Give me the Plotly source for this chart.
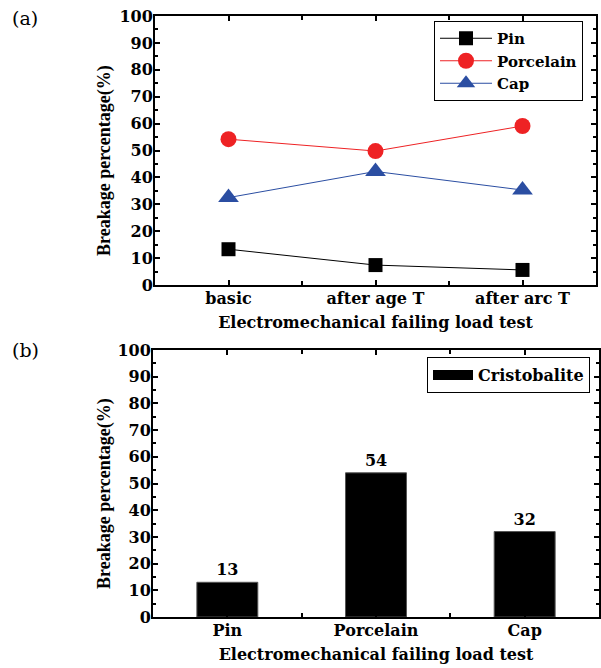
import plotly.graph_objects as go

# ---- data ----
conditions = ["basic", "after age T", "after arc T"]
pin = [13.3, 7.4, 5.6]
porcelain = [54.2, 49.8, 59.1]
cap = [32.5, 42.2, 35.3]

parts = ["Pin", "Porcelain", "Cap"]
cristobalite = [13, 54, 32]

yticks = [0, 10, 20, 30, 40, 50, 60, 70, 80, 90, 100]

W, H = 601, 668
FONT = "DejaVu Serif"
TFONT = "Liberation Serif"

def fx(px):
    return px / W

def fy(py):
    return 1 - py / H

fig = go.Figure()

xpos = list(range(len(conditions)))
fig.add_trace(go.Scatter(x=xpos, y=pin, name="Pin", mode="lines+markers",
                         line=dict(color="black", width=1),
                         marker=dict(symbol="square", size=14, color="black"),
                         xaxis="x", yaxis="y", legend="legend"))
fig.add_trace(go.Scatter(x=xpos, y=porcelain, name="Porcelain", mode="lines+markers",
                         line=dict(color="#ee2224", width=1),
                         marker=dict(symbol="circle", size=16, color="#ee2224"),
                         xaxis="x", yaxis="y", legend="legend"))
fig.add_trace(go.Scatter(x=xpos, y=cap, name="Cap", mode="lines+markers",
                         line=dict(color="#2b4ea2", width=1),
                         marker=dict(symbol="triangle-up", size=18, color="#2b4ea2"),
                         xaxis="x", yaxis="y", legend="legend"))

bpos = list(range(len(parts)))
fig.add_trace(go.Bar(x=bpos, y=cristobalite, name="Cristobalite", width=0.41,
                     marker=dict(color="black", line=dict(color="#555555", width=1)),
                     text=[str(v) for v in cristobalite], textposition="outside",
                     texttemplate="<b>%{text}</b>",
                     textfont=dict(family=FONT, size=16, color="black"),
                     cliponaxis=False, showlegend=False,
                     xaxis="x2", yaxis="y2"))
# legend entry for the bars (wide block like the original)
fig.add_trace(go.Scatter(x=[None], y=[None], name="Cristobalite", mode="lines",
                         line=dict(color="black", width=16),
                         xaxis="x2", yaxis="y2", legend="legend2"))

axis_common = dict(showline=True, linecolor="black", linewidth=2, mirror="allticks",
                   ticks="inside", ticklen=5, tickwidth=1.5, tickcolor="black",
                   showgrid=False, zeroline=False, automargin=False,
                   ticklabeloverflow="allow",
                   tickfont=dict(family=FONT, size=16, color="black", weight="bold"))

xaxis_common = dict(axis_common, range=[-0.5, 2.5], tickvals=xpos,
                    ticklabelstandoff=-2,
                    minor=dict(tickvals=[0.5, 1.5], ticks="inside", ticklen=4,
                               tickcolor="black", tickwidth=1.5))
yaxis_common = dict(axis_common, range=[0, 100], tickvals=yticks,
                    ticktext=[str(v) for v in yticks], ticklabelstandoff=-3,
                    minor=dict(dtick=5, ticks="inside", ticklen=3,
                               tickcolor="black", tickwidth=1.5))

xtitle = dict(text="Electromechanical failing load test",
              font=dict(family=FONT, size=16, weight="bold"), standoff=10)

YTITLE = "Breakage percentage(%)"
ytitle_font = dict(family=TFONT, size=18, color="black", weight="bold")

fig.update_layout(
    width=W, height=H,
    margin=dict(l=0, r=0, t=0, b=0, autoexpand=False),
    paper_bgcolor="white", plot_bgcolor="white",
    font=dict(family=FONT, color="black"),
    xaxis=dict(xaxis_common, domain=[fx(155), fx(596)], anchor="y",
               ticktext=conditions, title=xtitle),
    yaxis=dict(yaxis_common, domain=[fy(285), fy(16)], anchor="x"),
    xaxis2=dict(xaxis_common, domain=[fx(153), fx(599)], anchor="y2",
                ticktext=parts, title=xtitle),
    yaxis2=dict(yaxis_common, domain=[fy(617), fy(350)], anchor="x2"),
    legend=dict(x=fx(434), y=fy(21), xanchor="left", yanchor="top",
                bordercolor="black", borderwidth=1, bgcolor="white",
                font=dict(family=FONT, size=15, color="black", weight="bold"),
                itemwidth=52, tracegroupgap=0),
    legend2=dict(x=fx(427), y=fy(357), xanchor="left", yanchor="top",
                 bordercolor="black", borderwidth=1, bgcolor="white",
                 font=dict(family=FONT, size=16, color="black", weight="bold"),
                 itemwidth=40),
    annotations=[
        dict(text="(a)", x=fx(10), y=fy(5), xref="paper", yref="paper",
             xanchor="left", yanchor="top", showarrow=False,
             font=dict(family=FONT, size=19, color="black")),
        dict(text="(b)", x=fx(10), y=fy(337), xref="paper", yref="paper",
             xanchor="left", yanchor="top", showarrow=False,
             font=dict(family=FONT, size=19, color="black")),
        dict(text=YTITLE, x=fx(104), y=fy(161), xref="paper", yref="paper",
             xanchor="center", yanchor="middle", textangle=-90, showarrow=False,
             font=ytitle_font),
        dict(text=YTITLE, x=fx(104), y=fy(494), xref="paper", yref="paper",
             xanchor="center", yanchor="middle", textangle=-90, showarrow=False,
             font=ytitle_font),
    ],
)

# remove the browser's default page margin so the figure sits at the window corner
fig.write_html("out.html", config={"displayModeBar": False},
               post_script="document.body.style.margin='0';document.body.style.padding='0';")
